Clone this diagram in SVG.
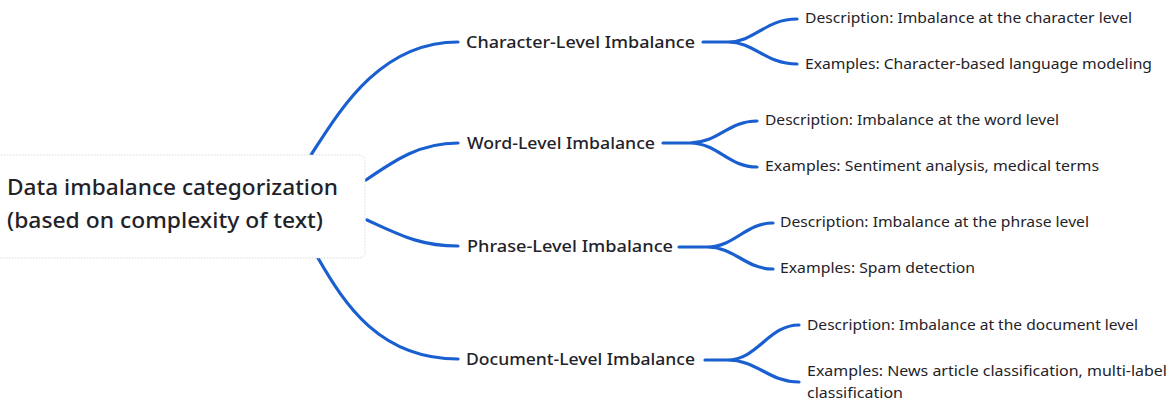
<svg xmlns="http://www.w3.org/2000/svg" width="1174" height="414" viewBox="0 0 1174 414">
<style>
.t{font-family:"Noto Sans","Liberation Sans",sans-serif;fill:#1f2329;}
.root{font-size:22.5px;font-weight:500;}
.mid{font-size:16.5px;font-weight:500;}
.leaf{font-size:14.6px;}
.c{fill:none;stroke:#1a5fcf;stroke-width:3.2;stroke-linecap:round;}
</style>
<rect width="1174" height="414" fill="#ffffff"/>
<g id="connectors">
<path class="c" d="M311,155 C340,110 380,42 458,42"/>
<path class="c" d="M366,180 C395,160 420,143 458,143"/>
<path class="c" d="M367,220 C400,235 420,246 458,246"/>
<path class="c" d="M318,258 C345,305 380,359 458,359"/>
<path class="c" d="M703,42 L728,42 C755,42 765,19 797,19 M728,42 C755,42 765,64 797,64"/>
<path class="c" d="M663,143 L690,143 C718,143 728,121 757,121 M690,143 C718,143 728,167 757,167"/>
<path class="c" d="M679,247 L707,247 C735,247 745,223 773,223 M707,247 C735,247 745,269 773,269"/>
<path class="c" d="M705,360 L727,360 C758,360 768,325 799,325 M727,360 C758,360 768,382 799,382"/>
</g>
<g id="root">
<rect x="-20" y="155" width="385" height="103" rx="6" fill="#ffffff" stroke="#d6d9de" stroke-width="1" stroke-dasharray="1.5 1.5"/>
<text class="t root" x="7" y="195" textLength="331" lengthAdjust="spacingAndGlyphs">Data imbalance categorization</text>
<text class="t root" x="7" y="228" textLength="316" lengthAdjust="spacingAndGlyphs">(based on complexity of text)</text>
</g>
<g id="character">
<text class="t mid" x="466" y="48" textLength="229" lengthAdjust="spacingAndGlyphs">Character-Level Imbalance</text>
</g>
<g id="character-desc"><text class="t leaf" x="805" y="23" textLength="327" lengthAdjust="spacingAndGlyphs">Description: Imbalance at the character level</text></g>
<g id="character-ex"><text class="t leaf" x="805" y="69" textLength="347" lengthAdjust="spacingAndGlyphs">Examples: Character-based language modeling</text></g>
<g id="word">
<text class="t mid" x="467" y="149" textLength="188" lengthAdjust="spacingAndGlyphs">Word-Level Imbalance</text>
</g>
<g id="word-desc"><text class="t leaf" x="765" y="125" textLength="294" lengthAdjust="spacingAndGlyphs">Description: Imbalance at the word level</text></g>
<g id="word-ex"><text class="t leaf" x="765" y="171" textLength="334" lengthAdjust="spacingAndGlyphs">Examples: Sentiment analysis, medical terms</text></g>
<g id="phrase">
<text class="t mid" x="467" y="252" textLength="206" lengthAdjust="spacingAndGlyphs">Phrase-Level Imbalance</text>
</g>
<g id="phrase-desc"><text class="t leaf" x="780" y="227" textLength="309" lengthAdjust="spacingAndGlyphs">Description: Imbalance at the phrase level</text></g>
<g id="phrase-ex"><text class="t leaf" x="780" y="273" textLength="195" lengthAdjust="spacingAndGlyphs">Examples: Spam detection</text></g>
<g id="document">
<text class="t mid" x="466" y="365" textLength="229" lengthAdjust="spacingAndGlyphs">Document-Level Imbalance</text>
</g>
<g id="document-desc"><text class="t leaf" x="807" y="330" textLength="331" lengthAdjust="spacingAndGlyphs">Description: Imbalance at the document level</text></g>
<g id="document-ex">
<text class="t leaf" x="807" y="376" textLength="360" lengthAdjust="spacingAndGlyphs">Examples: News article classification, multi-label</text>
<text class="t leaf" x="807" y="398" textLength="96" lengthAdjust="spacingAndGlyphs">classification</text>
</g>
</svg>
